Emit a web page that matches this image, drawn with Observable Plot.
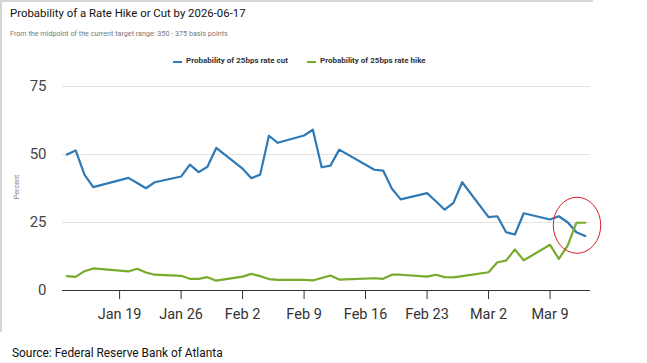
<!DOCTYPE html>
<html>
<head>
<meta charset="utf-8">
<script src="https://cdn.jsdelivr.net/npm/d3@7"></script>
<script src="https://cdn.jsdelivr.net/npm/@observablehq/plot@0.6"></script>
<style>
  html, body { margin: 0; padding: 0; background: #fff; }
  #wrap { position: relative; width: 647px; height: 363px; overflow: hidden; font-family: Roboto, sans-serif; }
  #frame { position: absolute; left: 0; top: 0; width: 593px; height: 332px; border-top: 2px solid #d6d6d6; border-left: 2px solid #d6d6d6; box-sizing: border-box; }
  #title { position: absolute; left: 10px; top: 6px; font-size: 11.5px; color: #111; white-space: nowrap; transform: scaleX(0.99); transform-origin: left top; }
  #subtitle { position: absolute; left: 10px; top: 29px; font-size: 7.2px; color: #777; white-space: nowrap; }
  #legend { position: absolute; top: 56px; left: 0; font-size: 8px; font-weight: bold; color: #333; white-space: nowrap; }
  .item { position: absolute; top: 0; }
  .sw { position: absolute; top: 5px; width: 9px; height: 2px; }
  .lab { position: absolute; left: 13px; top: 0; }
  #ylab { position: absolute; left: 16px; top: 187px; font-size: 7.2px; color: #888; transform: translate(-50%, -50%) rotate(-90deg); white-space: nowrap; }
  #source { position: absolute; left: 12px; top: 346px; font-size: 12px; color: #111; white-space: nowrap; transform: scaleX(0.99); transform-origin: left top; }
  #chart { position: absolute; left: 0; top: 75px; }
</style>
</head>
<body>
<div id="wrap">
  <div id="frame"></div>
  <div id="title">Probability of a Rate Hike or Cut by 2026-06-17</div>
  <div id="subtitle">From the midpoint of the current target range: 350 - 375 basis points</div>
  <div id="legend"></div>
  <div id="ylab">Percent</div>
  <div id="chart"></div>
  <div id="source">Source: Federal Reserve Bank of Atlanta</div>
</div>
<script>
const dates = [
  "2026-01-13","2026-01-14","2026-01-15","2026-01-16","2026-01-20","2026-01-21","2026-01-22","2026-01-23",
  "2026-01-26","2026-01-27","2026-01-28","2026-01-29","2026-01-30",
  "2026-02-02","2026-02-03","2026-02-04","2026-02-05","2026-02-06",
  "2026-02-09","2026-02-10","2026-02-11","2026-02-12","2026-02-13",
  "2026-02-17","2026-02-18","2026-02-19","2026-02-20",
  "2026-02-23","2026-02-24","2026-02-25","2026-02-26","2026-02-27",
  "2026-03-02","2026-03-03","2026-03-04","2026-03-05","2026-03-06",
  "2026-03-09","2026-03-10","2026-03-11","2026-03-12","2026-03-13"
];
const cutValues = [
  50.0, 51.5, 42.6, 38.0, 41.4, 39.5, 37.6, 39.8,
  41.9, 46.3, 43.5, 45.5, 52.4,
  44.8, 41.3, 42.6, 56.9, 54.3,
  57.0, 59.1, 45.3, 45.9, 51.8,
  44.4, 44.1, 37.4, 33.5,
  35.8, 32.8, 29.7, 32.2, 39.8,
  27.0, 27.3, 21.4, 20.6, 28.4,
  26.1, 27.3, 25.1, 21.4, 20.0
];
const hikeValues = [
  5.3, 5.0, 7.1, 8.1, 7.0, 8.0, 6.6, 5.8,
  5.4, 4.3, 4.3, 4.9, 3.6,
  5.1, 6.1, 5.3, 4.2, 3.9,
  3.9, 3.7, 4.6, 5.5, 4.0,
  4.5, 4.3, 5.8, 5.8,
  5.1, 5.8, 4.9, 4.8, 5.3,
  6.7, 10.4, 11.0, 15.1, 11.1,
  16.8, 11.6, 16.5, 24.9, 24.9
];
const seriesNames = ["Probability of 25bps rate cut", "Probability of 25bps rate hike"];
const seriesColors = ["#2f79b4", "#78aa2b"];
const xTicks = ["2026-01-19","2026-01-26","2026-02-02","2026-02-09","2026-02-16","2026-02-23","2026-03-02","2026-03-09"];
const yTicks = [0, 25, 50, 75];
const xDomain = ["2026-01-12T12:00Z", "2026-03-13T14:30Z"];
const yDomain = [0, 75];
// annotation ellipse (data units): center date, center value, half-width in days, half-height in percent
const highlight = { date: "2026-03-12T03:00Z", value: 23.8, rxDays: 2.7, ryValue: 10.3 };

const rows = [];
dates.forEach((d, i) => {
  rows.push({ date: new Date(d + "T00:00Z"), value: cutValues[i], series: seriesNames[0] });
  rows.push({ date: new Date(d + "T00:00Z"), value: hikeValues[i], series: seriesNames[1] });
});

const chart = Plot.plot({
  width: 647,
  height: 260,
  marginLeft: 62,
  marginRight: 57,
  marginTop: 11,
  marginBottom: 45,
  style: { fontFamily: "Roboto, sans-serif", background: "transparent", overflow: "visible" },
  x: { type: "utc", domain: xDomain.map(d => new Date(d)) },
  y: { domain: yDomain },
  color: { domain: seriesNames, range: seriesColors },
  marks: [
    Plot.ruleY(yTicks.filter(t => t > 0), { stroke: "#e3e3e3", strokeWidth: 1 }),
    Plot.axisY({ ticks: yTicks, tickSize: 0, tickPadding: 16, fontSize: 15, fill: "#444", label: null }),
    Plot.axisX({ ticks: xTicks.map(d => new Date(d + "T00:00Z")), tickFormat: d3.utcFormat("%b %-d"), tickSize: 9, tickPadding: 9, fontSize: 14.5, fill: "#333", stroke: "#333", label: null }),
    Plot.ruleY([0], { stroke: "#333", strokeWidth: 1 }),
    Plot.line(rows, { x: "date", y: "value", stroke: "series", z: "series", strokeWidth: 2.2, strokeLinejoin: "round" })
  ]
});
document.getElementById("chart").appendChild(chart);

// annotation ellipse positioned through the chart scales
const xs = chart.scale("x"), ys = chart.scale("y");
const cDate = new Date(highlight.date);
const cx = xs.apply(cDate);
const cy = ys.apply(highlight.value);
const rx = xs.apply(new Date(cDate.getTime() + highlight.rxDays * 864e5)) - cx;
const ry = cy - ys.apply(highlight.value + highlight.ryValue);
d3.select(chart).append("ellipse")
  .attr("cx", cx).attr("cy", cy).attr("rx", rx).attr("ry", ry)
  .attr("fill", "none").attr("stroke", "#d8202a").attr("stroke-width", 1);

// legend
const legend = document.getElementById("legend");
const legendX = [173, 307];
seriesNames.forEach((name, i) => {
  const item = document.createElement("div");
  item.className = "item";
  item.style.left = legendX[i] + "px";
  item.innerHTML = `<div class="sw" style="background:${seriesColors[i]}"></div><div class="lab">${name}</div>`;
  legend.appendChild(item);
});
</script>
</body>
</html>
